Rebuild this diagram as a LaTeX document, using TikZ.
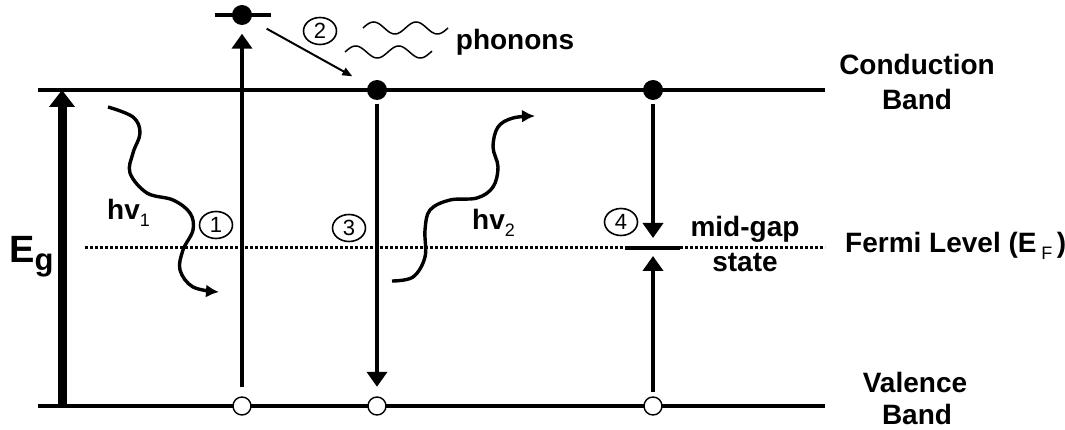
\documentclass[tikz,border=0pt]{standalone}
\usepackage{fontspec}
\setmainfont{Liberation Sans}
\usetikzlibrary{arrows.meta,shapes.geometric}
\newcommand{\subsc}[1]{\raisebox{-7pt}{\fontsize{18}{18}\selectfont\mdseries #1}}
\begin{document}
\begin{tikzpicture}[x=1pt,y=-1pt,
  band/.style={line width=4.6pt},
  fermi/.style={line width=3pt,dash pattern=on 3pt off 2pt},
  dot/.style={circle,fill=black,inner sep=0pt,minimum size=20pt},
  hole/.style={circle,draw=black,fill=white,line width=1.4pt,inner sep=0pt,minimum size=18pt},
  varrow/.style={line width=4.2pt,-{Triangle[length=15pt,width=20pt]}},
  egarrow/.style={line width=9pt,-{Triangle[length=17pt,width=25pt]}},
  photon/.style={line width=3.4pt,-{Latex[length=13pt,width=13pt]}},
  thinarrow/.style={line width=2pt,-{Triangle[length=10pt,width=8pt]}},
  wave/.style={line width=1.5pt},
  num/.style={ellipse,draw=black,line width=1.6pt,inner sep=0pt,minimum width=33pt,minimum height=27pt,font=\fontsize{22}{22}\selectfont},
  lbl/.style={font=\fontsize{28}{28}\selectfont\bfseries,inner sep=0pt}
]
\useasboundingbox (0,0) rectangle (1065,430);
% levels
\coordinate (cbL) at (38,90);
\coordinate (cbR) at (825,90);
\coordinate (vbL) at (38,406);
\coordinate (vbR) at (825,406);
\coordinate (efL) at (85,248);
\coordinate (efR) at (825,248);
\coordinate (mgL) at (625,248);
\coordinate (mgR) at (680,248);
\coordinate (mg) at (653,248);
\coordinate (tlL) at (215,15);
\coordinate (tlR) at (271,15);
\draw[band] (cbL) -- (cbR);
\draw[band] (vbL) -- (vbR);
\draw[fermi] (efL) -- (efR);
\draw[line width=4pt] (mgL) -- (mgR);
\draw[line width=4.6pt] (tlL) -- (tlR);
% carriers
\node[dot] (e1) at (242,15) {};
\node[dot] (e2) at (377,90) {};
\node[dot] (e3) at (653,90) {};
\node[hole] (h1) at (242,406) {};
\node[hole] (h2) at (377,406) {};
\node[hole] (h3) at (653,406) {};
% Eg arrow
\coordinate (egB) at (62,406);
\coordinate (egT) at (62,90);
\draw[egarrow] (egB) -- (egT);
\node[lbl,anchor=base west,font=\fontsize{38}{38}\selectfont\bfseries] (eg) at (9,262) {E\raisebox{-8pt}{\fontsize{31}{31}\selectfont g}};
% transitions
\draw[varrow,shorten <=9pt,shorten >=8.5pt] (h1) -- (e1);
\draw[thinarrow,shorten <=18pt,shorten >=18pt] (e1) -- (e2);
\draw[varrow,shorten <=3.5pt,shorten >=9.5pt] (e2) -- (h2);
\draw[varrow,shorten <=3.5pt,shorten >=10pt] (e3) -- (mg);
\draw[varrow,shorten <=4pt,shorten >=8pt] (h3) -- (mg);
% photons
\draw[photon] plot[smooth,tension=0.6] coordinates {(108,107) (133,117) (140,133) (133,153) (130,173) (147,193) (173,200) (190,213) (193,230) (183,250) (180,270) (193,287) (219,292)};
\draw[photon] plot[smooth,tension=0.6] coordinates {(392,281) (413,277) (425,257) (425,230) (430,210) (450,200) (477,198) (493,187) (498,167) (493,147) (498,127) (513,118) (535,116)};
% phonons
\draw[wave] plot[domain=0:85,samples=80] ({363+\x},{28-6*sin(\x/42.5*360)});
\draw[wave] plot[domain=0:87,samples=80] ({345+\x},{52-6*sin(\x/43*360)});
% numbers
\node[num] (n1) at (216,225) {1};
\node[num] (n2) at (320,31) {2};
\node[num] (n3) at (349,228) {3};
\node[num] (n4) at (621,222) {4};
% labels
\node[lbl,anchor=base] (ph) at (515,50) {phonons};
\node[lbl,anchor=base west] (hv1) at (107,220) {hv\subsc{1}};
\node[lbl,anchor=base west] (hv2) at (472,230) {hv\subsc{2}};
\node[lbl,anchor=base] (cb1) at (917,75) {Conduction};
\node[lbl,anchor=base] (cb2) at (917,110) {Band};
\node[lbl,anchor=base west] (ef) at (845,253) {Fermi Level (E\,\subsc{F}\,)};
\node[lbl,anchor=base] (mg1) at (745,237) {mid-gap};
\node[lbl,anchor=base] (mg2) at (745,272) {state};
\node[lbl,anchor=base] (vb1) at (915,392) {Valence};
\node[lbl,anchor=base] (vb2) at (917,424) {Band};
\end{tikzpicture}
\end{document}
